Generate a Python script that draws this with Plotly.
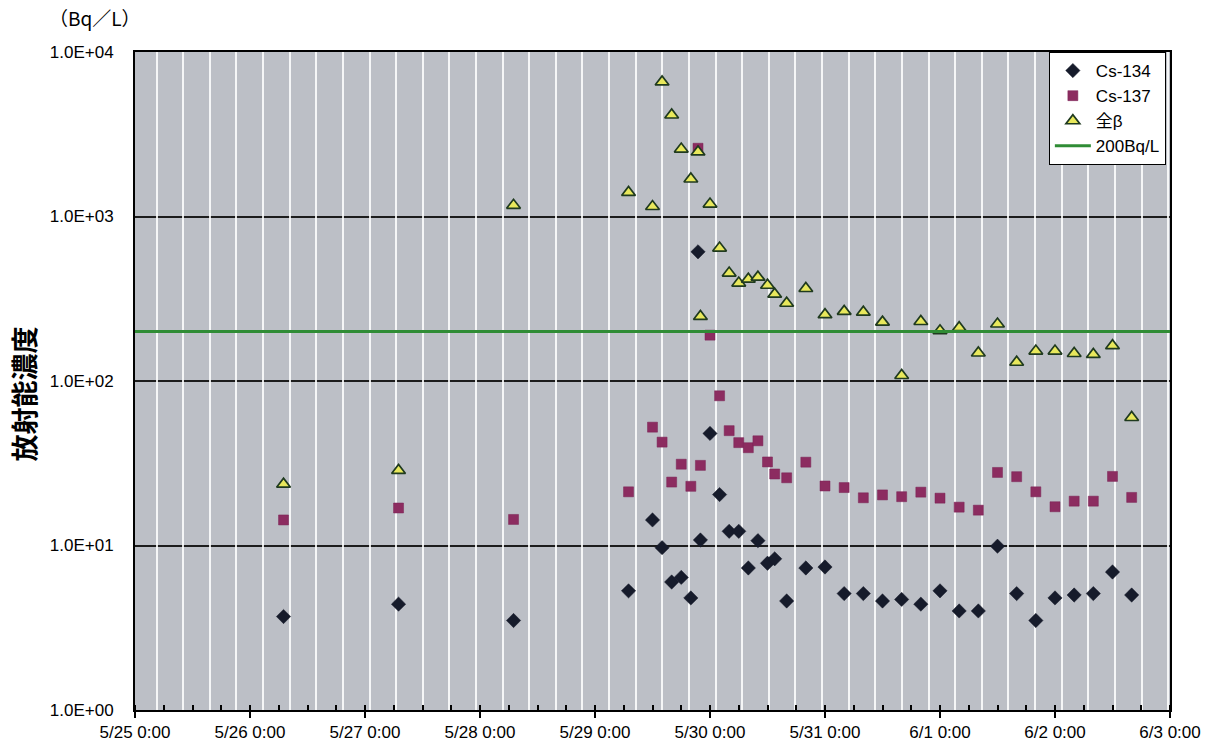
import plotly.graph_objects as go

# ---- data ----
times = [
    "2011-05-26 07:00", "2011-05-27 07:00", "2011-05-28 07:00", "2011-05-29 07:00",
    "2011-05-29 12:00", "2011-05-29 14:00", "2011-05-29 16:00", "2011-05-29 18:00",
    "2011-05-29 20:00", "2011-05-29 21:30", "2011-05-29 22:00",
    "2011-05-30 00:00", "2011-05-30 02:00", "2011-05-30 04:00", "2011-05-30 06:00",
    "2011-05-30 08:00", "2011-05-30 10:00", "2011-05-30 12:00", "2011-05-30 13:30",
    "2011-05-30 16:00", "2011-05-30 20:00",
    "2011-05-31 00:00", "2011-05-31 04:00", "2011-05-31 08:00", "2011-05-31 12:00",
    "2011-05-31 16:00", "2011-05-31 20:00",
    "2011-06-01 00:00", "2011-06-01 04:00", "2011-06-01 08:00", "2011-06-01 12:00",
    "2011-06-01 16:00", "2011-06-01 20:00",
    "2011-06-02 00:00", "2011-06-02 04:00", "2011-06-02 08:00", "2011-06-02 12:00",
    "2011-06-02 16:00",
]

cs134 = [3.7, 4.4, 3.5, 5.3,
         14.3, 9.7, 6.0, 6.4, 4.8, 610, 10.8,
         48, 20.4, 12.2, 12.2, 7.3, 10.7, 7.8, 8.3, 4.6, 7.3,
         7.4, 5.1, 5.1, 4.6, 4.7, 4.4,
         5.3, 4.0, 4.0, 9.9, 5.1, 3.5,
         4.8, 5.0, 5.1, 6.9, 5.0]

cs137 = [14.3, 16.9, 14.4, 21.2,
         52.4, 42.5, 24.3, 31.2, 22.9, 2600, 30.7,
         190, 81.3, 49.9, 42.2, 39.3, 43.3, 32.2, 27.2, 25.8, 32.1,
         23.0, 22.5, 19.5, 20.3, 19.8, 21.1,
         19.4, 17.1, 16.4, 27.8, 26.2, 21.2,
         17.2, 18.6, 18.6, 26.3, 19.6]

beta = [23.6, 28.6, 1170, 1400,
        1150, 6580, 4140, 2570, 1690, 2470, 247,
        1190, 643, 453, 394, 416, 428, 382, 337, 297, 365,
        253, 265, 262, 228, 108, 230,
        202, 211, 148, 222, 130, 152,
        152, 147, 145, 164, 60]

x_range = ["2011-05-25 00:00", "2011-06-03 00:00"]
limit_value = 200
limit_y = [limit_value, limit_value]

y_tickvals = [1, 10, 100, 1000, 10000]
y_ticktext = ["1.0E+00", "1.0E+01", "1.0E+02", "1.0E+03", "1.0E+04"]

series_names = ["Cs-134", "Cs-137", "全β", "200Bq/L"]

# ---- figure ----
FONT = "Liberation Sans, Arial, Noto Sans CJK JP"
fig = go.Figure()

fig.add_trace(go.Scatter(
    x=times, y=cs134, mode="markers", name=series_names[0], legendgroup="a",
    marker=dict(symbol="diamond", size=11, color="#161b2b",
                line=dict(color="#161b2b", width=0.5)),
))
fig.add_trace(go.Scatter(
    x=times, y=cs137, mode="markers", name=series_names[1], legendgroup="b",
    marker=dict(symbol="square", size=10, color="#8c2c60",
                line=dict(color="#7a2254", width=0.5)),
))
fig.add_trace(go.Scatter(
    x=times, y=beta, mode="markers", name=series_names[2], legendgroup="c",
    marker=dict(symbol="triangle-up", size=12, color="#e8e85c",
                line=dict(color="#1f3a1f", width=1.7)),
))
fig.add_trace(go.Scatter(
    x=x_range, y=limit_y, mode="lines", name=series_names[3], legendgroup="d",
    line=dict(color="#2f8c35", width=3), xaxis="x2",
))

fig.update_layout(
    width=1215, height=748,
    margin=dict(l=135, r=45, t=52, b=38),
    paper_bgcolor="white",
    plot_bgcolor="#bcbfc6",
    font=dict(family=FONT, size=17, color="black"),
    showlegend=True,
    legend=dict(
        x=0.996, y=1.0, xanchor="right", yanchor="top",
        bgcolor="white", bordercolor="black", borderwidth=1,
        font=dict(family=FONT, size=17, color="black"),
        tracegroupgap=0, itemwidth=36,
    ),
    xaxis=dict(
        type="date", range=x_range, automargin=False,
        dtick=86400000, tick0="2011-05-25 00:00",
        tickformat="%-m/%-d %-H:%M",
        ticks="outside", ticklen=6, tickwidth=2, tickcolor="black",
        showgrid=False, zeroline=False,
        showline=True, linecolor="black", linewidth=2, mirror=True,
        tickfont=dict(family=FONT, size=17, color="black"),
        minor=dict(dtick=6 * 3600000, ticks="inside", ticklen=5,
                   tickwidth=1.5, tickcolor="black", showgrid=False),
    ),
    xaxis2=dict(
        type="date", range=x_range, overlaying="x", side="top",
        showticklabels=False, ticks="", showline=False, zeroline=False,
        showgrid=True, gridcolor="rgba(255,255,255,0.85)", gridwidth=2,
        dtick=20000000, tick0="2011-05-25 04:30", automargin=False,
    ),
    yaxis=dict(
        type="log", range=[0, 4], automargin=False,
        tickvals=y_tickvals, ticktext=y_ticktext,
        ticks="", ticklabelstandoff=16,
        showgrid=True, gridcolor="#1c1c1c", gridwidth=2,
        zeroline=False,
        showline=True, linecolor="black", linewidth=2, mirror=True,
        tickfont=dict(family=FONT, size=17, color="black"),
    ),
)

fig.add_annotation(
    text="（Bq／L）", xref="paper", yref="paper",
    x=-0.0386, y=1.053, xanchor="center", yanchor="middle",
    showarrow=False, font=dict(family="Noto Sans CJK JP", size=19, color="black"),
)
fig.add_annotation(
    text="<b>放射能濃度</b>", xref="paper", yref="paper",
    x=-0.108, y=0.48, xanchor="center", yanchor="middle", textangle=-90,
    showarrow=False, font=dict(family="Noto Sans CJK JP", size=27, color="black"),
)

# remove the browser's default 8px body margin so the figure sits at (0,0)
fig.write_html("out.html", config={"displayModeBar": False},
               post_script="document.body.style.margin='0';")
